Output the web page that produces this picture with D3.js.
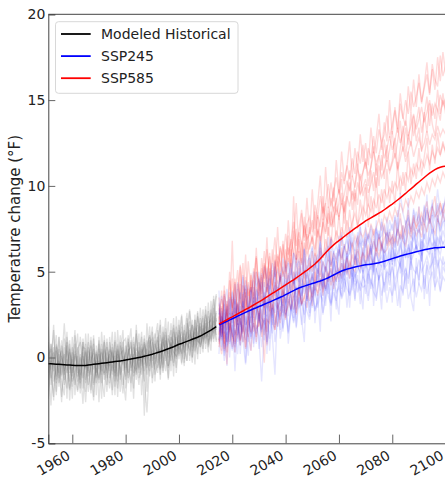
<!DOCTYPE html>
<html>
<head>
  <meta charset="utf-8">
  <script src="https://d3js.org/d3.v7.min.js"></script>
  <title>Temperature change</title>
  <style>
    body { margin: 0; background: #fff; }
    text { font-family: "DejaVu Sans", sans-serif; }
  </style>
</head>
<body>
  <div id="chart"></div>
  <script>
    // year ranges
    const histYears = d3.range(1950, 2015);
    const sspYears = d3.range(2015, 2101);

    // ensemble mean lines (°F)
    const histMean = [-0.35,-0.36,-0.37,-0.38,-0.39,-0.40,-0.41,-0.42,-0.43,-0.44,
      -0.45,-0.46,-0.47,-0.47,-0.47,-0.46,-0.44,-0.42,-0.40,-0.38,
      -0.36,-0.34,-0.32,-0.30,-0.28,-0.26,-0.24,-0.22,-0.20,-0.18,
      -0.15,-0.12,-0.09,-0.06,-0.03,0.00,0.03,0.07,0.11,0.15,
      0.19,0.24,0.29,0.34,0.39,0.45,0.51,0.57,0.63,0.70,
      0.77,0.82,0.88,0.94,1.00,1.06,1.12,1.18,1.25,1.33,
      1.42,1.51,1.60,1.70,1.80];
    const ssp245Mean = [1.90,1.97,2.04,2.11,2.19,
      2.26,2.33,2.41,2.48,2.56,2.63,2.70,2.77,2.84,2.90,
      2.97,3.03,3.10,3.17,3.23,3.30,3.37,3.44,3.51,3.58,
      3.66,3.74,3.82,3.90,3.98,4.05,4.11,4.16,4.21,4.26,
      4.31,4.36,4.41,4.46,4.52,4.58,4.65,4.73,4.81,4.89,
      4.97,5.04,5.10,5.15,5.19,5.23,5.27,5.31,5.34,5.37,
      5.40,5.42,5.44,5.46,5.49,5.52,5.56,5.61,5.66,5.71,
      5.76,5.81,5.86,5.91,5.96,6.00,6.04,6.08,6.12,6.16,
      6.20,6.24,6.28,6.31,6.34,6.37,6.39,6.40,6.41,6.42,
      6.42];
    const ssp585Mean = [1.95,2.03,2.12,2.20,2.29,
      2.37,2.46,2.54,2.63,2.71,2.80,2.88,2.97,3.06,3.15,
      3.24,3.33,3.43,3.53,3.63,3.73,3.83,3.93,4.03,4.13,
      4.23,4.33,4.43,4.53,4.64,4.75,4.86,4.97,5.08,5.20,
      5.32,5.45,5.60,5.76,5.93,6.10,6.27,6.42,6.56,6.69,
      6.81,6.93,7.05,7.17,7.29,7.41,7.52,7.63,7.74,7.85,
      7.96,8.05,8.14,8.23,8.32,8.41,8.50,8.61,8.72,8.83,
      8.94,9.06,9.18,9.30,9.43,9.56,9.70,9.83,9.96,10.10,
      10.23,10.36,10.49,10.62,10.74,10.85,10.95,11.03,11.09,11.13,
      11.15];

    // historical ensemble members 1950-2014
    const hist1 = [-0.8,0.3,-1.2,-0.1,0.6,-1.5,-0.4,0.2,-0.9,0.5, -1.1,0.4,-0.3,-1.8,0.1,-0.6,0.9,-1.0,-0.2,0.3,
      -0.7,0.8,-1.3,0.0,-0.5,0.6,-1.4,0.2,-0.3,0.9, -0.6,0.1,1.0,-0.9,0.3,-0.2,1.2,-0.4,0.5,-0.8,
      0.7,1.4,-0.3,0.4,1.1,-0.2,0.9,1.6,0.0,1.2, 0.5,1.8,0.3,1.3,2.1,0.6,1.5,0.9,2.3,1.0, 2.0,1.2,2.6,1.4,2.2];
    const hist2 = [0.4,-0.9,-0.2,-2.5,0.7,-0.5,0.1,-1.3,0.9,-0.7, -0.1,-1.6,0.6,-0.4,-1.2,0.3,-2.0,-0.3,0.5,-0.9,
      0.2,-0.8,0.4,-1.6,0.9,-0.3,0.1,-1.1,0.7,-0.4, 0.3,-1.2,0.0,0.8,-0.7,0.6,-0.5,1.1,-0.1,0.4,
      -0.6,0.8,0.2,1.3,-0.4,1.0,0.5,-0.2,1.5,0.6, 1.3,0.2,1.1,0.7,1.7,0.4,2.2,1.0,0.8,1.9, 1.1,2.4,1.5,2.9,1.6];
    const hist3 = [-1.7,-0.6,0.8,-0.3,-1.1,0.2,-2.3,-0.8,-0.1,-1.4, 0.6,-0.5,-1.4,0.2,-0.8,-2.6,-0.2,0.7,-1.5,-0.6,
      -1.2,-0.2,0.5,-0.9,-1.8,0.3,-0.6,0.8,-1.0,0.1, -1.1,0.5,-0.4,0.2,-1.3,0.9,0.1,-0.8,0.7,1.3,
      0.0,-0.7,1.0,-0.1,0.6,1.7,-0.5,0.9,0.3,0.1, 0.9,1.5,-0.1,2.0,0.8,1.2,0.3,1.9,1.3,0.5, 1.8,0.9,1.3,2.1,1.0];
    const hist4 = [0.9,-0.2,-0.7,1.9,-1.3,0.5,0.0,-0.6,-1.8,0.3, -0.4,0.8,-0.9,1.2,-0.1,-0.7,0.4,-1.9,0.0,-0.5,
      1.0,-1.5,-0.1,0.6,-0.3,-2.2,0.4,-0.2,1.3,-0.8, 0.2,0.9,-0.6,-0.2,1.4,-0.9,0.3,0.6,-1.0,0.8,
      1.1,-0.1,0.6,-1.0,0.9,0.3,1.3,0.4,-0.3,1.8, 0.2,1.0,1.6,0.4,1.1,1.9,0.7,2.6,0.6,1.4, 2.5,1.7,0.9,1.6,3.6];
    const hist5 = [-1.0,-2.4,0.1,-0.8,0.4,-1.2,-0.3,2.0,-0.5,-1.9, -0.8,0.1,-1.1,-0.6,0.9,-1.3,-0.4,0.3,-2.3,0.2,
      -0.4,0.5,-0.9,1.1,-1.2,-0.4,-0.9,0.5,-0.6,-1.6, 0.7,-0.4,-1.5,0.6,0.0,-0.6,0.8,-1.3,-3.2,-0.3,
      0.4,0.1,-0.9,0.8,0.2,-0.8,1.1,0.6,1.0,-0.1, 0.6,0.3,1.4,-0.2,1.6,0.9,1.7,0.2,1.5,2.4, 0.8,2.0,2.2,1.1,1.9];
    const hist6 = [0.0,0.7,-1.6,0.3,-0.4,-0.9,1.0,-1.0,0.4,-0.2, -1.4,-0.9,0.1,-1.0,0.6,0.5,-1.1,-0.6,0.8,-1.5,
      -0.2,-1.0,0.9,-0.5,0.2,-1.0,1.0,-1.4,0.2,0.4, -1.3,0.4,0.6,-0.5,-0.8,0.4,-0.3,0.2,-0.6,1.0,
      -0.2,0.5,1.2,-0.6,1.5,0.7,0.0,1.2,0.8,0.3, 1.6,0.7,0.9,1.5,0.1,1.4,1.0,1.2,2.0,0.9, 1.5,2.7,1.0,2.4,1.3];
    const hist7 = [-0.5,0.1,0.5,-1.4,-0.7,1.2,-1.1,-0.2,0.7,-0.9, 0.3,-1.2,-2.0,0.0,-0.5,0.4,-0.8,1.0,-0.7,-0.2,
      -1.5,0.3,-0.4,-0.7,0.5,0.1,-0.3,-1.8,0.9,-0.1, -0.2,-0.9,0.3,1.2,-0.4,-1.6,0.6,-0.1,1.0,-0.5,
      0.9,-0.4,0.3,0.5,-0.8,1.3,0.2,0.8,-0.5,1.5, -0.1,1.2,0.6,1.1,1.3,0.0,1.8,1.4,0.6,1.7, 1.2,1.4,2.8,0.9,2.3];
    const hist8 = [0.3,-1.3,-0.4,0.6,-2.0,-0.1,0.4,-1.6,-0.6,0.8, -0.9,0.2,-0.5,-1.3,1.1,-0.2,-1.6,-0.1,0.2,-1.1,
      0.5,-0.6,-1.0,0.3,-0.8,0.8,-1.1,0.4,-1.3,0.6, -0.7,1.1,-0.8,0.1,0.5,0.2,-1.0,0.9,0.0,-1.1,
      0.3,1.0,-0.6,0.1,1.2,0.2,-0.6,0.3,1.9,0.4, 1.0,-0.3,1.9,0.8,0.5,2.2,0.4,1.0,1.8,1.1, 2.2,0.7,1.9,1.5,2.6];
    const hist9 = [1.5,-1.9,0.8,-0.6,-2.2,1.2,-1.0,0.6,-2.4,1.0, -1.7,1.3,-0.2,-2.1,0.9,-1.5,1.4,-0.9,-2.5,0.7,
      -1.3,1.5,-0.6,-2.0,1.2,-0.8,0.9,-2.3,0.3,1.6, -1.8,0.5,1.7,-1.1,-0.3,1.4,-2.2,0.8,-0.5,1.8,
      -1.2,1.1,2.0,-0.7,0.6,2.3,-0.5,1.2,-1.1,2.4, 0.1,2.5,-0.3,1.6,2.8,0.0,2.2,-0.1,2.9,0.8, 3.0,0.6,2.4,3.4,0.9];
    const hist10 = [-2.1,0.9,-0.3,1.6,-1.5,-0.2,-2.6,1.1,0.0,-1.8, 1.2,-2.2,0.5,0.9,-1.8,1.4,-0.6,-2.1,1.1,-1.2,
      0.8,-2.4,1.3,-0.9,0.4,-1.9,1.5,-0.4,-2.0,0.9, 1.1,-1.5,0.2,-2.4,1.6,-0.7,0.5,-1.4,2.0,-0.2,
      1.5,-1.4,0.9,1.9,-0.9,0.4,2.1,-0.8,1.7,0.0, 2.2,-0.4,1.3,2.6,-0.2,1.9,0.6,2.7,0.2,2.3, 0.5,3.2,1.1,2.6,3.7];
    const hist11 = [0.6,-0.4,-2.8,0.2,1.3,-1.7,0.7,-0.8,1.5,-2.5, -0.3,1.6,-1.9,-0.7,-2.7,0.8,-0.9,1.2,-1.6,0.4,
      -2.6,0.1,1.0,-1.2,-0.2,1.5,-1.7,0.7,-0.9,-2.1, 0.3,1.3,-2.0,0.9,-1.0,0.0,1.5,-3.4,0.4,1.2,
      -1.5,-0.1,1.6,-1.3,1.8,0.1,-1.2,2.0,0.5,-0.6, 1.9,0.4,-0.5,2.3,0.9,-0.3,2.5,0.8,1.1,2.8, 1.6,0.3,3.3,1.9,2.7];
    const hist12 = [-1.3,1.8,-1.0,-2.3,0.8,0.1,-1.4,-2.2,1.2,0.2, -2.4,0.0,1.4,-1.5,0.3,-2.0,0.6,-0.3,1.3,-2.2,
      1.2,-1.1,-2.3,0.9,-1.5,0.4,-2.2,1.6,-0.5,-1.1, -2.5,0.2,0.9,-1.8,1.9,-1.2,-0.6,1.3,-2.0,0.6,
      1.8,-1.0,-0.4,2.2,-0.6,1.5,-1.3,0.5,2.3,-0.9, 1.2,2.4,0.5,-0.2,2.7,1.5,-0.4,2.4,1.6,0.3, 2.8,1.3,0.4,3.6,2.1];

    // SSP245 ensemble members 2015-2100
    const ssp245_1 = [2.8,1.6,3.1,2.2,3.5, 2.4,3.3,1.9,3.8,2.9,3.6,2.5,4.1,3.0,3.9, 3.2,4.4,3.1,4.0,4.8,3.5,4.2,3.3,5.0,4.1,
      4.6,3.7,5.2,4.3,4.9,5.6,4.0,5.1,4.6,5.8, 4.5,5.3,6.0,4.8,5.5,5.0,6.2,5.4,5.9,4.9, 6.3,5.6,6.5,5.8,6.1,7.0,5.7,6.4,6.8,5.9,
      6.6,7.2,6.0,6.9,6.3,7.4,6.5,6.1,7.3,6.8, 7.0,6.4,7.6,6.9,7.2,6.6,7.8,7.1,6.8,7.5, 7.3,7.9,6.9,7.6,8.1,7.2,7.7,8.3,7.4,7.9, 8.0];
    const ssp245_2 = [1.0,2.2,0.3,1.5,0.8, 1.9,0.6,1.4,2.3,0.9,1.7,2.5,1.2,2.0,1.4, 2.6,1.5,2.2,0.8,2.4,2.9,1.9,2.7,2.2,3.1,
      2.4,3.3,2.8,2.1,3.6,2.9,3.2,2.5,3.8,3.0, 3.4,4.0,2.9,3.7,3.3,4.2,3.6,3.1,4.4,3.8, 4.1,3.5,4.6,4.0,3.7,4.8,4.2,4.5,3.9,4.7,
      4.3,5.0,4.4,4.1,5.2,4.6,4.9,4.2,5.1,4.7, 5.3,4.5,5.0,5.5,4.8,5.2,4.6,5.6,5.1,4.9, 5.7,5.0,5.4,5.9,5.2,5.5,6.0,5.3,5.8,5.4, 5.6];
    const ssp245_3 = [2.2,0.4,2.9,1.3,2.6, 1.1,3.4,2.0,0.7,3.2,2.4,1.5,3.7,2.2,4.0, 2.5,1.4,3.6,2.8,4.2,1.9,3.3,4.5,2.7,3.9,
      3.1,4.8,3.4,2.6,4.4,5.2,3.6,4.1,5.4,3.8, 4.9,3.6,5.5,4.2,5.0,3.9,5.7,4.6,5.3,6.1, 4.4,5.6,4.8,6.2,5.1,4.7,6.0,5.4,4.9,6.4,
      5.2,5.9,6.5,4.9,6.1,5.5,6.7,5.3,5.8,6.3, 5.6,6.8,5.9,6.4,7.1,5.8,6.5,6.1,7.3,6.2, 6.7,6.0,7.2,6.4,6.9,7.5,6.3,7.0,6.6,7.4, 6.8];
    const ssp245_4 = [0.9,1.8,-0.2,1.3,2.0, 0.5,1.6,0.2,2.1,1.0,-0.4,1.7,2.4,0.8,1.9, 1.2,-1.4,1.6,2.5,1.1,2.9,0.9,2.2,3.0,1.7,
      2.6,1.5,3.1,2.0,2.8,3.5,1.9,3.3,2.7,2.2, 3.6,2.8,3.2,4.0,2.6,3.5,4.3,3.0,3.8,3.3, 4.5,3.4,3.9,4.7,3.6,4.2,5.0,3.8,4.4,4.1,
      4.2,3.3,4.6,3.8,3.5,4.8,3.6,4.4,3.2,4.1, 3.6,4.5,3.0,4.2,3.8,4.9,3.4,4.0,4.6,3.5, 4.3,3.9,4.8,3.7,4.5,5.0,4.1,4.6,3.9,4.7, 4.4];
    const ssp245_5 = [2.5,3.6,2.9,4.0,2.7, 3.8,3.1,4.4,3.4,4.7,3.5,4.2,3.7,5.0,4.1, 4.6,3.9,5.3,4.4,4.0,5.5,4.7,5.1,4.3,5.8,
      5.0,5.6,4.6,6.1,5.3,5.7,4.9,6.3,5.5,5.9, 6.4,5.2,6.0,6.7,5.8,6.3,5.6,7.0,6.1,6.5, 5.9,7.1,6.4,6.8,6.2,7.4,6.6,7.0,7.6,6.5,
      7.2,6.8,7.7,7.0,7.5,6.9,7.9,7.3,7.1,8.0, 7.4,8.2,7.6,9.6,8.4,7.8,8.1,7.5,8.6,7.9, 8.3,7.7,8.8,8.0,8.5,8.9,8.2,9.8,8.4,8.7, 9.1];
    const ssp245_6 = [1.5,2.4,1.8,0.9,2.7, 2.0,2.9,1.3,2.6,3.3,1.9,3.0,2.3,3.5,2.8, 2.1,3.4,3.0,2.4,3.8,3.1,2.6,4.1,3.5,3.0,
      4.3,3.2,3.9,4.6,3.5,4.2,4.8,3.7,4.4,4.0, 4.7,3.9,5.1,4.5,4.1,5.3,4.8,4.4,5.6,4.9, 5.2,4.6,5.7,5.0,5.5,4.8,5.9,5.3,5.0,5.8,
      5.4,6.0,5.1,5.7,6.2,5.5,5.3,6.3,5.8,5.5, 6.4,5.7,6.1,6.6,5.9,6.3,5.8,6.8,6.2,6.5, 6.0,6.9,6.4,6.2,7.0,6.5,6.8,6.3,7.1,6.6, 6.9];
    const ssp245_7 = [1.8,1.1,2.6,0.6,1.6, 2.7,1.3,2.1,3.0,1.5,2.4,0.9,2.8,2.0,2.5, 3.3,2.3,2.0,3.5,2.6,1.4,3.2,2.8,3.6,2.4,
      3.0,3.9,2.7,3.4,4.1,3.1,3.8,4.3,3.3,4.6, 3.7,4.2,4.8,3.9,4.5,4.0,4.7,5.1,4.3,4.6, 5.0,4.4,4.9,5.3,4.6,5.4,4.7,5.1,5.6,4.9,
      5.5,5.0,5.3,5.8,5.1,5.6,5.9,5.2,5.4,6.0, 5.5,6.1,5.7,5.3,6.2,5.8,6.4,5.6,6.0,6.5, 6.1,5.7,6.6,6.3,5.9,6.7,6.2,6.4,6.0,6.8, 6.3];
    const ssp245_8 = [3.2,2.1,1.4,3.0,2.3, 3.9,2.6,3.2,1.8,3.6,4.2,2.9,3.4,4.5,3.1, 3.8,4.9,3.4,4.3,3.7,5.1,4.0,3.6,4.7,5.3,
      4.1,4.6,5.5,4.2,5.0,4.4,5.8,4.9,5.2,6.0, 5.1,5.6,4.9,6.2,5.4,5.9,6.5,5.3,6.1,5.7, 6.6,5.8,6.3,7.1,6.0,6.7,6.2,7.3,6.5,6.9,
      6.4,7.2,6.8,6.3,7.5,6.9,7.1,7.7,6.6,7.3, 7.8,7.0,7.4,8.1,7.2,7.6,8.3,7.3,7.9,8.5, 7.6,8.2,7.9,8.7,7.8,8.4,8.0,8.9,8.3,8.6, 9.4];
    const ssp245_9 = [3.9,0.6,2.8,-0.5,3.4, 1.2,4.3,0.9,3.1,4.8,1.0,3.6,0.4,4.1,2.2, 5.0,1.6,3.8,0.9,4.6,2.3,5.3,1.8,4.0,2.6,
      5.7,2.4,4.5,6.1,2.8,5.0,3.1,6.4,3.3,5.4, 2.9,6.0,4.2,6.8,3.6,5.5,7.0,3.9,6.2,4.4, 7.1,4.0,6.5,4.8,7.4,3.9,6.3,5.2,7.7,4.6,
      6.9,4.3,7.5,5.0,8.0,4.5,6.8,5.6,8.2,4.8, 7.2,5.3,8.6,4.9,7.7,5.9,9.3,5.1,7.9,6.2, 8.8,5.6,7.4,9.5,6.0,8.3,5.4,9.0,6.4,8.5, 7.0];
    const ssp245_10 = [0.2,2.9,1.1,3.3,0.0, 2.6,-0.8,2.0,1.1,3.8,-0.3,2.4,3.9,0.6,3.2, 0.5,2.7,4.4,0.2,3.5,1.3,-1.0,3.0,4.7,1.5,
      3.8,0.8,2.9,5.0,1.7,4.2,2.2,0.9,4.8,2.6, 5.1,2.0,3.7,1.5,5.4,3.0,4.7,2.1,5.8,3.4, 2.5,5.5,3.8,6.1,2.9,4.9,3.3,6.2,4.1,2.8,
      5.7,3.6,6.4,3.0,5.2,4.4,2.8,6.0,3.9,5.5, 3.2,6.3,4.5,2.9,5.9,4.0,6.6,3.5,2.7,5.8, 4.2,6.8,3.4,5.6,3.0,6.1,4.6,7.0,3.8,5.3, 4.9];
    const ssp245_11 = [2.6,1.2,3.7,0.7,2.0, 3.5,0.3,4.0,2.2,1.4,4.5,2.8,1.1,3.3,5.0, 2.0,3.9,1.0,5.2,3.2,2.4,5.6,2.9,1.6,4.9,
      2.5,5.5,3.6,2.3,6.0,4.4,3.0,6.3,3.8,4.9, 6.5,3.5,4.6,7.1,4.0,5.8,3.7,6.9,5.0,4.2, 6.0,7.3,4.5,5.9,7.6,5.3,4.4,7.0,6.1,5.0,
      7.8,5.5,6.6,4.8,7.3,6.2,8.1,5.1,6.9,7.5, 5.4,8.3,6.5,7.2,5.0,8.0,6.8,5.7,8.7,6.3, 7.7,5.9,8.9,6.6,7.4,9.2,6.0,8.1,7.3,9.0, 7.6];
    const ssp245_12 = [1.1,2.7,0.1,2.1,1.4, 0.4,2.0,3.1,0.2,2.6,1.6,0.1,2.9,1.9,0.8, 2.8,0.6,1.9,3.4,0.4,2.5,1.7,3.6,1.1,2.2,
      3.5,1.4,2.7,3.9,1.8,3.2,4.3,2.0,3.6,2.4, 4.1,2.7,3.5,4.6,2.5,3.9,4.9,3.2,4.3,2.8, 4.7,3.6,5.2,2.9,4.4,5.3,3.4,4.8,3.1,5.1,
      3.7,4.9,4.0,5.6,3.3,4.6,5.4,3.8,5.0,4.2, 5.5,3.9,4.7,5.9,3.6,5.2,4.3,6.0,3.8,5.3, 4.5,6.1,4.0,5.4,4.8,6.3,3.9,5.7,4.6,5.9, 5.0];

    // SSP585 ensemble members 2015-2100
    const ssp585_1 = [3.1,1.8,3.9,2.4,4.5, 2.9,3.6,5.1,2.7,4.2,3.5,5.6,3.8,4.6,5.9, 3.9,5.2,4.6,6.3,4.8,5.5,7.0,5.3,6.4,5.8,
      7.2,6.0,6.8,7.9,6.5,7.4,8.6,7.0,7.8,8.2, 7.3,8.9,8.1,9.4,8.4,9.0,10.1,8.8,9.7,10.5, 9.5,10.8,10.1,11.2,10.4,11.6,10.7,12.0,11.3,12.4,
      11.0,12.2,11.6,12.9,11.9,13.3,12.5,13.0,14.1,12.8, 13.6,14.4,13.1,14.8,13.9,15.0,14.2,15.5,14.6,15.2, 16.0,14.9,15.7,16.5,15.3,17.1,16.2,15.8,17.6,16.4, 17.0];
    const ssp585_2 = [2.2,3.4,2.7,1.6,3.8, 3.0,2.4,4.3,3.3,2.8,4.7,3.6,4.1,3.2,5.0, 4.4,3.7,5.4,4.6,5.9,4.2,5.1,6.0,5.5,4.9,
      6.3,5.6,6.9,6.1,5.7,7.3,6.6,7.7,6.9,7.2, 8.0,7.1,8.3,7.6,8.8,8.2,7.8,9.3,8.6,9.1, 9.8,8.9,9.5,10.3,9.7,10.6,9.9,11.0,10.4,10.8,
      11.4,10.6,11.1,12.0,11.3,11.8,12.5,11.6,12.2,12.9, 12.1,12.7,13.4,12.5,13.1,13.8,12.9,13.5,14.2,13.3, 13.9,14.6,13.7,14.3,15.0,14.1,14.8,14.4,15.3,14.7, 15.1];
    const ssp585_3 = [1.4,2.9,0.8,3.3,2.5, 6.8,2.2,3.1,1.9,3.7,2.6,4.4,3.0,2.5,4.1, 3.6,4.8,3.3,2.9,5.2,4.1,3.7,5.6,4.5,5.0,
      4.6,5.8,5.2,9.4,5.5,6.2,5.4,6.7,6.0,6.5, 7.1,6.3,7.5,6.8,7.9,7.2,8.4,7.6,8.1,8.7, 8.2,9.0,8.5,9.4,8.8,9.7,9.1,10.2,9.5,9.9,
      10.4,9.6,10.1,10.8,9.9,11.2,10.5,10.9,11.5,10.8, 11.3,11.9,10.9,11.6,12.3,11.4,12.0,12.6,11.7,12.3, 12.8,12.1,12.5,13.2,12.4,13.0,12.7,13.5,12.9,13.3, 13.0];
    const ssp585_4 = [2.4,1.2,2.0,2.8,1.5, 2.6,1.8,3.2,2.1,1.4,3.5,2.7,2.0,3.8,3.0, 2.4,3.6,2.9,4.1,3.4,2.8,4.4,3.9,4.8,3.5,
      4.2,4.9,3.8,5.0,4.5,5.4,4.7,5.9,5.1,5.6, 5.0,6.1,5.5,6.4,5.8,6.9,6.2,7.0,6.6,7.4, 6.8,7.6,7.1,8.0,7.3,7.9,8.4,7.7,8.2,8.8,
      8.3,8.9,8.5,9.2,8.7,9.5,9.0,9.8,9.3,9.9, 9.6,10.2,9.8,10.5,10.0,10.8,10.3,11.0,10.6,11.3, 10.9,11.5,11.1,11.8,11.3,12.0,11.6,12.2,11.8,12.4, 12.0];
    const ssp585_5 = [1.3,2.1,0.5,1.7,2.3, 1.0,2.4,1.6,0.7,2.8,1.9,2.2,3.1,1.5,2.6, 3.0,2.2,-0.3,2.7,3.4,2.5,3.7,2.9,3.3,4.0,
      3.2,3.8,4.4,3.5,4.1,3.7,4.6,4.2,5.0,4.4, 4.8,4.3,5.2,4.7,5.6,5.1,5.8,5.3,6.1,5.6, 6.3,5.7,6.6,6.0,6.8,6.4,7.1,6.6,7.3,7.0,
      7.5,6.9,7.8,7.2,7.6,8.1,7.4,8.3,7.9,8.5, 8.0,8.7,8.2,9.0,8.5,9.2,8.8,9.4,9.0,9.7, 9.3,9.9,9.5,10.2,9.7,10.4,10.0,10.6,10.2,10.8, 10.4];
    const ssp585_6 = [0.6,1.7,1.1,0.3,2.0, 1.3,0.8,2.2,1.0,1.9,0.5,2.4,1.4,2.0,1.2, 2.6,1.7,2.3,1.5,3.0,2.1,1.6,3.2,2.4,2.9,
      2.2,3.4,2.8,3.6,2.5,3.9,3.1,3.5,4.2,3.3, 3.8,4.5,3.6,4.3,4.9,4.0,4.7,5.2,4.4,5.0, 4.6,5.5,5.0,5.8,5.2,6.0,5.4,6.3,5.7,6.1,
      5.8,6.5,6.0,6.8,6.2,7.0,6.4,6.9,7.3,6.6, 7.1,6.7,7.5,6.9,7.7,7.2,7.9,7.4,8.1,7.6, 7.9,8.4,7.7,8.6,8.0,8.8,8.2,8.5,9.0,8.3, 8.7];
    const ssp585_7 = [2.9,1.0,3.6,1.9,3.0, 4.6,2.3,3.9,5.4,2.7,4.0,2.2,4.8,3.4,5.8, 3.1,4.5,6.2,3.8,5.0,3.5,5.7,4.3,6.5,4.7,
      5.3,7.1,4.8,6.0,7.5,5.4,6.8,5.9,7.8,6.3, 7.0,5.9,8.2,6.7,7.8,9.0,7.1,8.5,7.6,9.3, 8.0,9.6,7.8,9.1,10.2,8.6,9.8,8.9,10.7,9.4,
      10.1,8.8,10.9,9.7,11.3,10.0,11.8,10.4,12.4,10.9, 11.5,12.8,11.0,12.2,13.5,11.7,13.0,12.3,14.1,12.6, 13.4,12.0,14.3,13.1,14.8,13.6,12.9,14.5,13.8,15.4, 14.2];
    const ssp585_8 = [1.1,0.2,1.5,0.9,1.8, 0.6,1.6,1.2,2.3,0.9,1.8,1.3,0.4,2.5,1.7, 1.9,2.8,1.3,2.2,2.0,3.1,2.4,1.8,2.7,3.4,
      2.6,3.0,3.7,2.8,3.3,4.0,3.1,3.6,2.9,4.3, 3.5,4.1,3.8,4.6,3.9,4.4,5.0,4.2,4.8,4.5, 5.1,4.7,5.4,4.9,5.6,5.2,5.0,5.8,5.3,6.0,
      5.5,6.2,5.8,5.4,6.4,5.9,6.6,6.1,6.3,6.9, 6.4,7.0,6.6,7.3,6.8,6.5,7.4,7.0,7.6,7.1, 7.5,7.0,7.8,7.3,8.1,7.6,7.2,8.0,7.7,8.3, 7.9];
    const ssp585_9 = [3.5,1.4,4.2,2.0,5.0, 2.5,4.6,1.9,5.3,3.2,6.0,2.8,4.9,3.6,6.4, 3.4,5.8,4.1,7.0,3.9,6.3,4.7,7.6,5.0,6.6,
      5.2,8.0,5.9,7.1,9.0,6.1,8.4,6.8,9.3,7.2, 9.8,7.5,8.9,10.6,8.0,11.1,8.7,10.2,9.1,11.5, 9.6,12.0,10.3,11.1,12.6,10.5,12.2,11.0,13.0,11.4,
      12.5,11.2,13.4,11.9,12.8,14.2,12.1,13.7,12.6,15.0, 13.0,14.6,13.3,15.4,14.0,13.5,15.8,14.3,16.2,14.6, 16.5,14.8,15.9,17.2,15.4,16.8,15.6,17.5,16.1,17.8, 16.6];
    const ssp585_10 = [1.0,3.0,0.4,2.6,1.6, 3.4,0.9,2.9,4.3,1.5,3.8,1.2,4.5,2.3,3.5, 1.8,4.7,2.5,5.3,2.7,4.2,6.0,3.1,4.9,2.9,
      5.6,3.6,6.3,4.0,5.8,3.8,6.7,4.6,7.2,5.0, 6.2,4.5,7.4,5.5,8.1,5.8,7.6,6.3,8.8,6.7, 8.3,6.5,9.1,7.0,8.6,7.3,9.6,7.5,9.2,8.0,
      9.9,7.6,9.4,8.3,10.5,8.2,9.8,8.7,11.0,9.0, 10.3,8.9,11.4,9.5,10.8,9.7,12.0,10.1,11.3,10.4, 12.2,10.6,11.7,12.8,10.9,12.4,11.3,13.1,11.8,12.6, 11.9];
    const ssp585_11 = [0.8,2.4,1.5,-0.4,2.2, 1.4,0.3,2.6,1.0,3.0,0.6,2.2,1.5,3.3,0.9, 2.7,1.2,3.5,0.7,2.4,3.9,1.6,3.1,2.0,4.2,
      2.3,3.8,2.8,4.6,2.6,4.0,3.1,5.1,3.4,4.5, 3.0,5.0,4.1,5.7,3.6,5.3,4.4,6.2,4.0,5.6, 4.8,6.4,5.0,5.9,4.6,6.7,5.4,7.1,5.2,6.3,
      7.0,5.6,6.6,7.5,5.9,7.2,6.2,7.8,6.5,7.3, 6.6,8.0,7.1,8.4,6.9,7.7,8.6,7.2,8.3,7.5, 8.8,7.4,8.5,9.1,7.8,8.7,9.4,7.9,9.0,8.4, 9.2];
    const ssp585_12 = [2.0,3.9,1.7,3.1,0.9, 2.8,4.4,2.1,3.7,5.5,2.6,4.0,3.0,5.2,2.9, 4.6,3.3,5.5,3.8,6.1,4.3,3.6,5.9,4.4,6.8,
      4.9,6.4,5.3,7.4,5.7,6.9,5.5,8.2,6.3,7.6, 6.6,8.5,7.0,8.0,9.4,7.3,8.8,7.7,9.9,8.3, 9.0,10.4,8.4,9.7,10.9,9.2,10.1,11.3,9.5,10.8,
      11.6,10.0,11.2,12.3,10.6,11.8,10.9,12.7,11.4,12.1, 13.2,11.6,12.6,13.8,12.0,13.4,12.4,14.3,12.9,13.7, 14.6,13.1,14.1,15.2,13.5,14.8,13.9,15.6,14.2,15.0, 14.4];

    const histMembers = [hist1, hist2, hist3, hist4, hist5, hist6, hist7, hist8, hist9, hist10, hist11, hist12];
    const ssp245Members = [ssp245_1, ssp245_2, ssp245_3, ssp245_4, ssp245_5, ssp245_6,
      ssp245_7, ssp245_8, ssp245_9, ssp245_10, ssp245_11, ssp245_12];
    const ssp585Members = [ssp585_1, ssp585_2, ssp585_3, ssp585_4, ssp585_5, ssp585_6,
      ssp585_7, ssp585_8, ssp585_9, ssp585_10, ssp585_11, ssp585_12];

    const yTicks = [-5, 0, 5, 10, 15, 20];
    const xTicks = [1960, 1980, 2000, 2020, 2040, 2060, 2080, 2100];
    const legendLabels = ["Modeled Historical", "SSP245", "SSP585"];
    const legendColors = ["black", "blue", "red"];

    // page size and plot box
    const W = 445, H = 478;
    const margin = { top: 14.3, left: 48.3, bottom: 34.7 };
    const plotRight = 445.6;

    const svg = d3.select("#chart").append("svg")
      .attr("width", W)
      .attr("height", H);

    const x = d3.scaleLinear().domain([1951, 2100]).range([margin.left, plotRight]);
    const y = d3.scaleLinear().domain([-5, 20]).range([H - margin.bottom, margin.top]);

    svg.append("clipPath").attr("id", "plotclip")
      .append("rect")
        .attr("x", margin.left).attr("y", margin.top)
        .attr("width", plotRight - margin.left)
        .attr("height", H - margin.bottom - margin.top);

    const plot = svg.append("g").attr("clip-path", "url(#plotclip)");

    const line = (years) => d3.line()
      .x((d, i) => x(years[i]))
      .y(d => y(d));

    // ensemble members
    plot.selectAll(".hist")
      .data(histMembers)
      .join("path")
        .attr("fill", "none")
        .attr("stroke", "#6a6a6a")
        .attr("stroke-opacity", 0.2)
        .attr("stroke-width", 1.3)
        .attr("d", line(histYears));

    plot.selectAll(".s585")
      .data(ssp585Members)
      .join("path")
        .attr("fill", "none")
        .attr("stroke", "red")
        .attr("stroke-opacity", 0.14)
        .attr("stroke-width", 1.4)
        .attr("d", line(sspYears));

    plot.selectAll(".s245")
      .data(ssp245Members)
      .join("path")
        .attr("fill", "none")
        .attr("stroke", "blue")
        .attr("stroke-opacity", 0.1)
        .attr("stroke-width", 1.4)
        .attr("d", line(sspYears));

    // mean lines
    plot.append("path").datum(histMean)
      .attr("fill", "none").attr("stroke", "black").attr("stroke-width", 1.5)
      .attr("d", line(histYears));
    plot.append("path").datum(ssp245Mean)
      .attr("fill", "none").attr("stroke", "blue").attr("stroke-width", 1.5)
      .attr("d", line(sspYears));
    plot.append("path").datum(ssp585Mean)
      .attr("fill", "none").attr("stroke", "red").attr("stroke-width", 1.5)
      .attr("d", line(sspYears));

    // axes
    const yAxis = svg.append("g")
      .attr("transform", `translate(${margin.left},0)`)
      .call(d3.axisLeft(y).tickValues(yTicks).tickSize(-7).tickPadding(3).tickFormat(d => String(d)));
    yAxis.selectAll("text").style("font-size", "14px").attr("fill", "#222");

    const xAxis = svg.append("g")
      .attr("transform", `translate(0,${H - margin.bottom})`)
      .call(d3.axisBottom(x).tickValues(xTicks).tickSize(-8.7).tickFormat(d => String(d)));
    xAxis.selectAll("text")
      .style("font-size", "14px")
      .attr("fill", "#222")
      .attr("y", 0).attr("dy", 0)
      .attr("text-anchor", "end")
      .attr("transform", "translate(-1.5,15) rotate(-30)");

    [yAxis, xAxis].forEach(a => {
      a.selectAll(".tick line").attr("stroke", "#666");
      a.select(".domain").attr("stroke", "#444");
    });

    // top spine
    svg.append("line")
      .attr("x1", margin.left).attr("x2", plotRight)
      .attr("y1", margin.top).attr("y2", margin.top)
      .attr("stroke", "#444");

    // y label
    svg.append("text")
      .attr("transform", `translate(20,${(margin.top + H - margin.bottom) / 2}) rotate(-90)`)
      .attr("text-anchor", "middle")
      .style("font-size", "15px")
      .attr("fill", "#222")
      .text("Temperature change (°F)");

    // legend
    const legend = svg.append("g");
    legend.append("rect")
      .attr("x", 55.5).attr("y", 21.7)
      .attr("width", 182.5).attr("height", 71.6)
      .attr("rx", 3)
      .attr("fill", "white").attr("fill-opacity", 0.8)
      .attr("stroke", "#d8d8d8");
    const rows = legend.selectAll(".row")
      .data(legendLabels)
      .join("g")
        .attr("transform", (d, i) => `translate(0,${34 + i * 22.1})`);
    rows.append("line")
      .attr("x1", 61).attr("x2", 90.7)
      .attr("stroke", (d, i) => legendColors[i])
      .attr("stroke-width", 1.8);
    rows.append("text")
      .attr("x", 101).attr("y", 5)
      .style("font-size", "14px")
      .attr("fill", "#222")
      .text(d => d);
  </script>
</body>
</html>
